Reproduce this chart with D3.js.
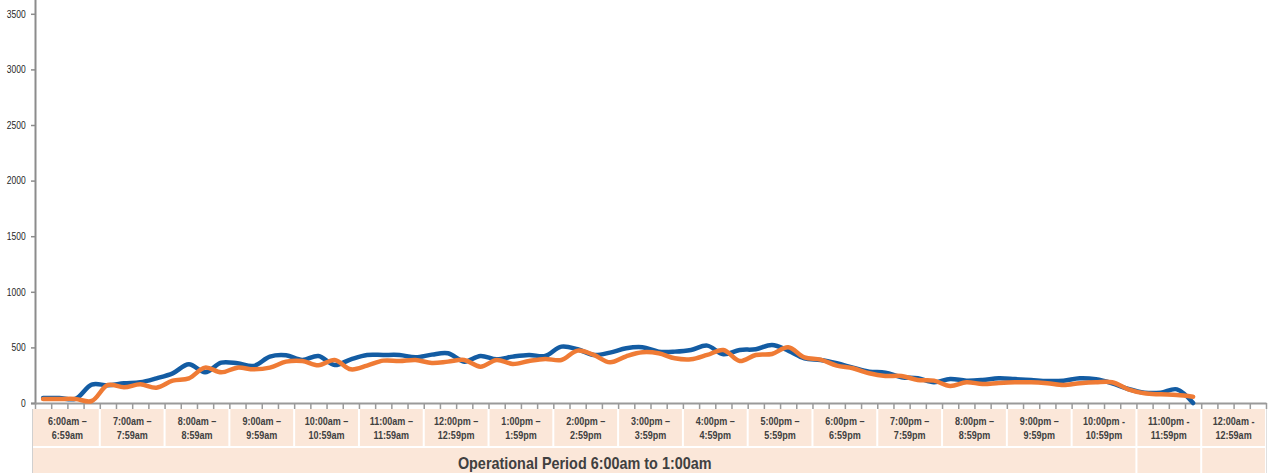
<!DOCTYPE html>
<html>
<head>
<meta charset="utf-8">
<script src="https://cdn.jsdelivr.net/npm/d3@7"></script>
<style>
  html, body { margin: 0; padding: 0; background: #ffffff; }
  svg { display: block; }
</style>
</head>
<body>
<svg id="chart" width="1273" height="473"></svg>
<script>
// Hour bands shown in the table under the chart (start / end of each hour)
const hourStart = ["6:00am –", "7:00am –", "8:00am –", "9:00am –", "10:00am –", "11:00am –",
  "12:00pm –", "1:00pm –", "2:00pm –", "3:00pm –", "4:00pm –", "5:00pm –", "6:00pm –",
  "7:00pm –", "8:00pm –", "9:00pm –", "10:00pm -", "11:00pm -", "12:00am -"];
const hourEnd = ["6:59am", "7:59am", "8:59am", "9:59am", "10:59am", "11:59am",
  "12:59pm", "1:59pm", "2:59pm", "3:59pm", "4:59pm", "5:59pm", "6:59pm",
  "7:59pm", "8:59pm", "9:59pm", "10:59pm", "11:59pm", "12:59am"];

// Value axis ticks
const yTicks = [0, 500, 1000, 1500, 2000, 2500, 3000, 3500];

// 15-minute counts, 6:00am through 11:45pm
const series1 = [
  45, 45, 38, 165, 160, 177, 186, 222, 267, 348, 276, 363,
  357, 333, 417, 429, 387, 423, 342, 393, 432, 432, 432, 411,
  435, 447, 372, 423, 393, 417, 432, 423, 507, 483, 432, 453,
  492, 501, 462, 462, 477, 516, 438, 477, 483, 522, 471, 402,
  387, 357, 318, 282, 273, 231, 222, 186, 216, 201, 207, 222,
  215, 207, 198, 201, 222, 213, 177, 126, 93, 93, 123, 0
];
const series2 = [
  36, 36, 36, 18, 162, 141, 168, 138, 201, 222, 318, 276,
  318, 303, 318, 372, 378, 339, 387, 303, 336, 381, 378, 387,
  360, 372, 387, 327, 387, 351, 378, 396, 387, 471, 432, 366,
  420, 456, 447, 402, 393, 432, 477, 378, 432, 441, 501, 411,
  390, 336, 312, 267, 243, 243, 207, 201, 153, 186, 171, 180,
  186, 186, 177, 162, 177, 186, 186, 123, 87, 78, 72, 57
];

const periodTitle = "Operational Period 6:00am to 1:00am";

// ---- layout ----
const left = 35, right = 1266, base = 403;
const font = "'Liberation Sans', Arial, sans-serif";
const textColor = "#404040";
const cellFill = "#fbe7d9";

const svg = d3.select("#chart");

const hours = d3.range(hourStart.length);
const x = d3.scaleBand().domain(hours).range([left, right]).paddingInner(0).paddingOuter(0);
const quarters = hourStart.length * 4;
const xq = d3.scaleLinear().domain([0, quarters]).range([left, right]);
const y = d3.scaleLinear().domain([0, 4000]).range([base, base - 8 * 55.6]);

// ---- table under the axis ----
const table = svg.append("g");
const headTop = 409, headBottom = 446, footTop = 448, footBottom = 480;

table.selectAll("rect.head")
  .data(hours)
  .join("rect")
  .attr("class", "head")
  .attr("x", i => i === 0 ? 33 : x(i) + 1)
  .attr("width", i => (i === 0 ? x(i) + x.bandwidth() - 1 - 33 : x.bandwidth() - 2))
  .attr("y", headTop)
  .attr("height", headBottom - headTop)
  .attr("fill", cellFill);

const footSpans = [
  { from: 0, to: 16, label: periodTitle },
  { from: 17, to: 17, label: "" },
  { from: 18, to: 18, label: "" }
];
table.selectAll("rect.foot")
  .data(footSpans)
  .join("rect")
  .attr("class", "foot")
  .attr("x", d => d.from === 0 ? 33 : x(d.from) + 1)
  .attr("width", d => (x(d.to) + x.bandwidth() - 1) - (d.from === 0 ? 33 : x(d.from) + 1))
  .attr("y", footTop)
  .attr("height", footBottom - footTop)
  .attr("fill", cellFill);

// outer edges of the table
table.append("line")
  .attr("x1", 32.5).attr("x2", 32.5).attr("y1", headTop).attr("y2", footBottom)
  .attr("stroke", "#d0d0d0").attr("stroke-width", 1);
table.append("line")
  .attr("x1", right + 0.5).attr("x2", right + 0.5).attr("y1", headTop).attr("y2", footBottom)
  .attr("stroke", "#e0e0e0").attr("stroke-width", 1);

// hour labels, condensed horizontally
const labels = table.selectAll("g.hour")
  .data(hours)
  .join("g")
  .attr("class", "hour")
  .attr("transform", i => `translate(${x(i) + x.bandwidth() / 2},0) scale(0.86,1)`)
  .append("text")
  .attr("text-anchor", "middle")
  .attr("font-family", font)
  .attr("font-weight", "bold")
  .attr("font-size", "10.5px")
  .attr("fill", textColor);
labels.append("tspan")
  .attr("x", 0)
  .attr("y", 425)
  .text(i => hourStart[i]);
labels.append("tspan")
  .attr("x", 0)
  .attr("y", 439)
  .text(i => hourEnd[i]);

table.selectAll("g.foot")
  .data(footSpans.filter(d => d.label))
  .join("g")
  .attr("class", "foot")
  .attr("transform", d => `translate(${(33 + x(d.to) + x.bandwidth()) / 2},0) scale(0.9,1)`)
  .append("text")
  .attr("x", 0)
  .attr("y", 469.5)
  .attr("text-anchor", "middle")
  .attr("font-family", font)
  .attr("font-weight", "bold")
  .attr("font-size", "16px")
  .attr("fill", textColor)
  .text(d => d.label);

// ---- y axis ----
const yAxis = d3.axisLeft(y).tickValues(yTicks).tickSize(4).tickPadding(7).tickFormat(d3.format("d"));
const gy = svg.append("g").attr("transform", `translate(${left},0)`).call(yAxis);
gy.select(".domain").attr("stroke", "#8c8c8c").attr("stroke-width", 2);
gy.selectAll(".tick line").attr("stroke", "#8c8c8c").attr("stroke-width", 1.5);
gy.selectAll(".tick text")
  .attr("font-family", font)
  .attr("font-size", "10px")
  .attr("fill", "#262626")
  .attr("transform", "scale(0.85,1)");

// ---- x axis baseline with quarter-hour ticks ----
const xAxis = d3.axisBottom(xq).tickValues(d3.range(0, quarters + 1)).tickSize(6).tickSizeOuter(0).tickFormat("");
const gx = svg.append("g").attr("transform", `translate(0,${base})`).call(xAxis);
gx.select(".domain").attr("stroke", "#9a9a9a").attr("stroke-width", 2);
gx.selectAll(".tick line").attr("stroke", "#9a9a9a").attr("stroke-width", 1.5);

// ---- series lines ----
const line = d3.line()
  .x((d, i) => xq(i + 0.5))
  .y(d => y(d))
  .curve(d3.curveCatmullRom.alpha(0.5));

svg.append("path")
  .datum(series1)
  .attr("d", line)
  .attr("fill", "none")
  .attr("stroke", "#135ca3")
  .attr("stroke-width", 4.5)
  .attr("stroke-linejoin", "round")
  .attr("stroke-linecap", "round");

svg.append("path")
  .datum(series2)
  .attr("d", line)
  .attr("fill", "none")
  .attr("stroke", "#ef7b35")
  .attr("stroke-width", 4.5)
  .attr("stroke-linejoin", "round")
  .attr("stroke-linecap", "round");
</script>
</body>
</html>
